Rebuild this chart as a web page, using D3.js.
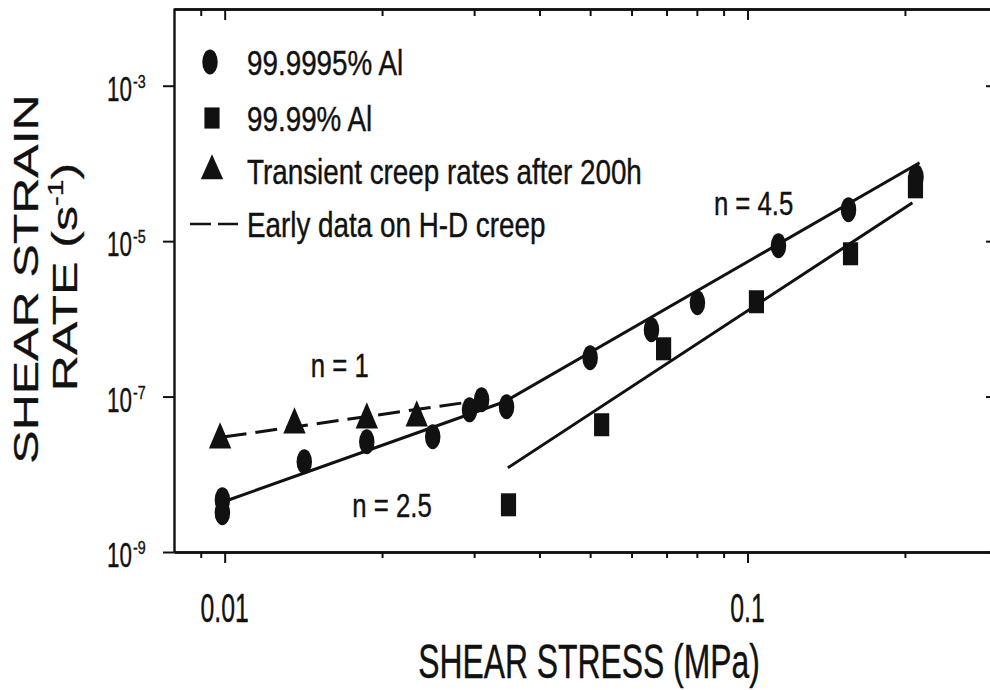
<!DOCTYPE html>
<html>
<head>
<meta charset="utf-8">
<script src="https://cdn.jsdelivr.net/npm/d3@7/dist/d3.min.js"></script>
<style>
  html, body { margin: 0; padding: 0; background: #fff; }
  svg { display: block; }
  text { font-family: "Liberation Sans", Arial, sans-serif; fill: #111; stroke: #111; stroke-width: 0.4; }
</style>
</head>
<body>
<svg id="chart" width="990" height="690"></svg>
<script>
// Creep of aluminium: shear strain rate against shear stress (log-log)

// 99.9995% Al
const pureStress = [0.0099, 0.0099, 0.0142, 0.0187, 0.025, 0.0294, 0.031, 0.0346, 0.050, 0.0655, 0.0802, 0.1146, 0.156, 0.210];
const pureRate   = [4.7e-9, 3.2e-9, 1.45e-8, 2.62e-8, 3.04e-8, 6.76e-8, 9.1e-8, 7.4e-8, 3.16e-7, 7.24e-7, 1.61e-6, 8.73e-6, 2.54e-5, 6.74e-5];

// 99.99% Al
const commStress = [0.0349, 0.0526, 0.0691, 0.104, 0.1574, 0.2095];
const commRate   = [4.05e-9, 4.34e-8, 4.12e-7, 1.66e-6, 6.88e-6, 5.0e-5];

// Transient creep rates after 200 h
const transStress = [0.0098, 0.0136, 0.0187, 0.0233];
const transRate   = [2.78e-8, 4.34e-8, 5.02e-8, 5.33e-8];

// Fitted power-law lines (end points)
const fitLowStress  = [0.0102, 0.0343];
const fitLowRate    = [4.7e-9, 8.57e-8];
const fitPureStress = [0.0343, 0.2133];
const fitPureRate   = [8.57e-8, 1.02e-4];
const fitCommStress = [0.0348, 0.2067];
const fitCommRate   = [1.21e-8, 3.12e-5];
const hdStress      = [0.0100, 0.0305];
const hdRate        = [3.04e-8, 8.83e-8];

// Slope annotations (anchored at text baseline centre)
const slopeLabels = ["n = 1", "n = 2.5", "n = 4.5"];
const slopeStress = [0.0166, 0.0209, 0.1027];
const slopeRate   = [1.79e-7, 2.82e-9, 2.17e-5];

// Axes
const xMajorTicks  = [0.01, 0.1];
const xMajorLabels = ["0.01", "0.1"];
const xMinorTicks  = [0.009, 0.02, 0.03, 0.04, 0.05, 0.06, 0.07, 0.08, 0.09, 0.2];
const yTicks       = [1e-3, 1e-5, 1e-7, 1e-9];
const yTickExps    = ["-3", "-5", "-7", "-9"];

const legendLabels = ["99.9995% Al", "99.99% Al", "Transient creep rates after 200h", "Early data on H-D creep"];

const svg = d3.select("#chart");
const ink = "#111";

const x = d3.scaleLog().domain([0.008, 0.3]).range([174, 997]);
const y = d3.scaleLog().domain([1e-9, 1e-2]).range([552, 8]);

// condensed text helper: horizontal squeeze around the anchor point
function ctext(g, px, py, str, size, k, anchor) {
  return g.append("text")
    .attr("transform", `translate(${px},${py}) scale(${k},1)`)
    .attr("text-anchor", anchor || "start")
    .attr("font-size", size)
    .text(str);
}

// ---- axes (ticks via d3 axis generators) ----
function styleAxis(g) {
  g.selectAll("path.domain").attr("stroke", ink).attr("stroke-width", 2.4);
  g.selectAll(".tick line").attr("stroke", ink).attr("stroke-width", 2);
  g.selectAll(".tick text").remove();
}

// bottom
svg.append("g").attr("transform", "translate(0,552)")
  .call(d3.axisBottom(x).tickValues(xMinorTicks).tickSize(6).tickSizeOuter(0)).call(styleAxis);
svg.append("g").attr("transform", "translate(0,552)")
  .call(d3.axisBottom(x).tickValues(xMajorTicks).tickSize(11).tickSizeOuter(0)).call(styleAxis);
// top (inward)
svg.append("g").attr("transform", "translate(0,9)")
  .call(d3.axisBottom(x).tickValues(xMinorTicks).tickSize(7).tickSizeOuter(0)).call(styleAxis);
svg.append("g").attr("transform", "translate(0,9)")
  .call(d3.axisBottom(x).tickValues(xMajorTicks).tickSize(11).tickSizeOuter(0)).call(styleAxis);
// left (outward)
svg.append("g").attr("transform", "translate(174,0)")
  .call(d3.axisLeft(y).tickValues(yTicks).tickSize(11).tickSizeOuter(0)).call(styleAxis);
// right (inward)
svg.append("g").attr("transform", "translate(997,0)")
  .call(d3.axisLeft(y).tickValues(yTicks).tickSize(11).tickSizeOuter(0)).call(styleAxis);

// x tick labels
const xl = svg.append("g");
xMajorTicks.forEach((v, i) => ctext(xl, x(v), 622, xMajorLabels[i], 40, 0.62, "middle"));

// y tick labels: 10 with superscript exponent
const yl = svg.append("g");
yTicks.forEach((v, i) => {
  const py = y(v);
  ctext(yl, 132, py + 15, "10", 35, 0.64, "end");
  ctext(yl, 133, py + 2, yTickExps[i], 19, 0.75, "start");
});

// axis titles
ctext(svg, 589, 678, "SHEAR STRESS (MPa)", 48, 0.664, "middle");

svg.append("text")
  .attr("transform", "translate(38,279) scale(0.72,1) rotate(-90)")
  .attr("text-anchor", "middle").attr("font-size", 50)
  .text("SHEAR STRAIN");
const yt2 = svg.append("text")
  .attr("transform", "translate(77,277) scale(0.72,1) rotate(-90)")
  .attr("text-anchor", "middle").attr("font-size", 50);
yt2.append("tspan").text("RATE (s");
yt2.append("tspan").attr("font-size", 30).attr("dy", -20).text("-1");
yt2.append("tspan").attr("dy", 20).text(")");

// ---- fit lines ----
const line = d3.line().x(d => x(d[0])).y(d => y(d[1]));
const lines = svg.append("g").attr("fill", "none").attr("stroke", ink).attr("stroke-width", 3);
lines.append("path").attr("d", line(d3.zip(fitLowStress, fitLowRate)));
lines.append("path").attr("d", line(d3.zip(fitPureStress, fitPureRate)));
lines.append("path").attr("d", line(d3.zip(fitCommStress, fitCommRate)));
lines.append("path").attr("d", line(d3.zip(hdStress, hdRate))).attr("stroke-dasharray", "22,9");

// ---- markers (tall symbols) ----
const sq = 0.62; // horizontal squeeze of markers
const circ = d3.symbol().type(d3.symbolCircle).size(Math.PI * 12.5 * 12.5);
const square = d3.symbol().type(d3.symbolSquare).size(23 * 23);
const tri = d3.symbol().type(d3.symbolTriangle).size(300);

function markers(xs, ys, gen, sx, sy) {
  svg.append("g").attr("fill", ink).selectAll("path")
    .data(d3.zip(xs, ys)).join("path")
    .attr("transform", d => `translate(${x(d[0])},${y(d[1])}) scale(${sx},${sy})`)
    .attr("d", gen);
}
markers(pureStress, pureRate, circ, sq, 1);
markers(commStress, commRate, square, 0.66, 1);
markers(transStress, transRate, tri, 0.85, 1.15);

// ---- slope annotations ----
slopeLabels.forEach((s, i) => ctext(svg, x(slopeStress[i]), y(slopeRate[i]), s, 33, 0.78, "middle"));

// ---- legend ----
const lg = svg.append("g");
const legY = [62, 118, 171, 224];
lg.append("path").attr("transform", `translate(210,${legY[0]}) scale(${sq},1)`).attr("d", circ).attr("fill", ink);
lg.append("path").attr("transform", `translate(212,${legY[1]}) scale(0.66,0.92)`).attr("d", square).attr("fill", ink);
lg.append("path").attr("transform", `translate(212,${legY[2]}) scale(0.85,1.1)`).attr("d", tri).attr("fill", ink);
lg.append("line").attr("x1", 190).attr("x2", 238).attr("y1", legY[3]).attr("y2", legY[3])
  .attr("stroke", ink).attr("stroke-width", 2.5).attr("stroke-dasharray", "21,7");
legendLabels.forEach((s, i) => ctext(lg, 247, legY[i] + 13, s, 35, 0.795, "start"));
</script>
</body>
</html>
